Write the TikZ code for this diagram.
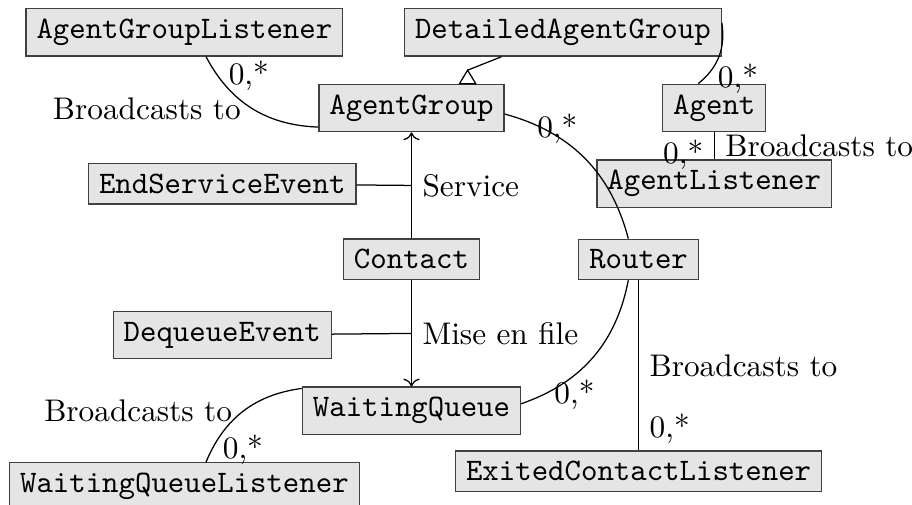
\documentclass[tikz,border=0pt]{standalone}
\usetikzlibrary{arrows.meta}
\tikzset{
  classbox/.style={draw=black!75,fill=black!10,font=\ttfamily},
}
\begin{document}
\begin{tikzpicture}[x=0.85cm,y=0.85cm]
    \clip (-5.436,1.427) rectangle (6.612,-5.244); % Crops the picture...
    % classes
    \node[classbox] (AgentGroupListener)    at (-3,1)    {AgentGroupListener};
    \node[classbox] (DetailedAgentGroup)    at (2,1)     {DetailedAgentGroup};
    \node[classbox] (AgentGroup)            at (0,0)     {AgentGroup};
    \node[classbox] (Agent)                 at (4,0)     {Agent};
    \node[classbox] (AgentListener)         at (4,-1)    {AgentListener};
    \node[classbox] (EndServiceEvent)       at (-2.5,-1) {EndServiceEvent};
    \node[classbox] (Contact)               at (0,-2)    {Contact};
    \node[classbox] (Router)                at (3,-2)    {Router};
    \node[classbox] (DequeueEvent)          at (-2.5,-3) {DequeueEvent};
    \node[classbox] (WaitingQueue)          at (0,-4)    {WaitingQueue};
    \node[classbox] (WaitingQueueListener)  at (-3,-5)   {WaitingQueueListener};
    \node[classbox] (ExitedContactListener) at (3,-4.8)  {ExitedContactListener};

    % inheritance: open triangle standing on AgentGroup
    \coordinate (InhBase) at ([xshift=0.63cm]AgentGroup.north);
    \coordinate (InhApex) at ([yshift=4.3pt]InhBase);
    \draw (DetailedAgentGroup) -- (InhApex);
    \draw[fill=white] ([xshift=-2.6pt]InhBase) -- (InhApex)
      -- ([xshift=2.6pt]InhBase) -- cycle;

    % associations
    \draw (AgentGroupListener) to[bend right]
      node[pos=0.15,right] {0,*} node[midway,left] {Broadcasts to} (AgentGroup);
    \draw (DetailedAgentGroup) to[bend left]
      node[pos=0.9,right=1pt] {0,*} (Agent);
    \draw (AgentGroup) to[bend left]
      node[pos=0.3,yshift=2.5pt] {0,*} (Router);
    \draw (Agent) -- node[pos=0.82,left] {0,*}
      node[midway,right] {Broadcasts to} (AgentListener);
    \draw[->] (Contact) -- coordinate[midway] (ServiceMid)
      node[midway,right] {Service} (AgentGroup);
    \draw (EndServiceEvent) -- (ServiceMid);
    \draw[->] (Contact) -- coordinate[midway] (QueueMid)
      node[midway,right] {Mise en file} (WaitingQueue);
    \draw (DequeueEvent) -- (QueueMid);
    \draw (Router) to[bend left]
      node[pos=0.87,right] {0,*} (WaitingQueue);
    \draw (Router) -- node[midway,right] {Broadcasts to}
      node[pos=0.87,right] {0,*} (ExitedContactListener);
    \draw (WaitingQueueListener) to[bend left]
      node[pos=0.1,right] {0,*} node[midway,left] {Broadcasts to} (WaitingQueue);
  \end{tikzpicture}
\end{document}
